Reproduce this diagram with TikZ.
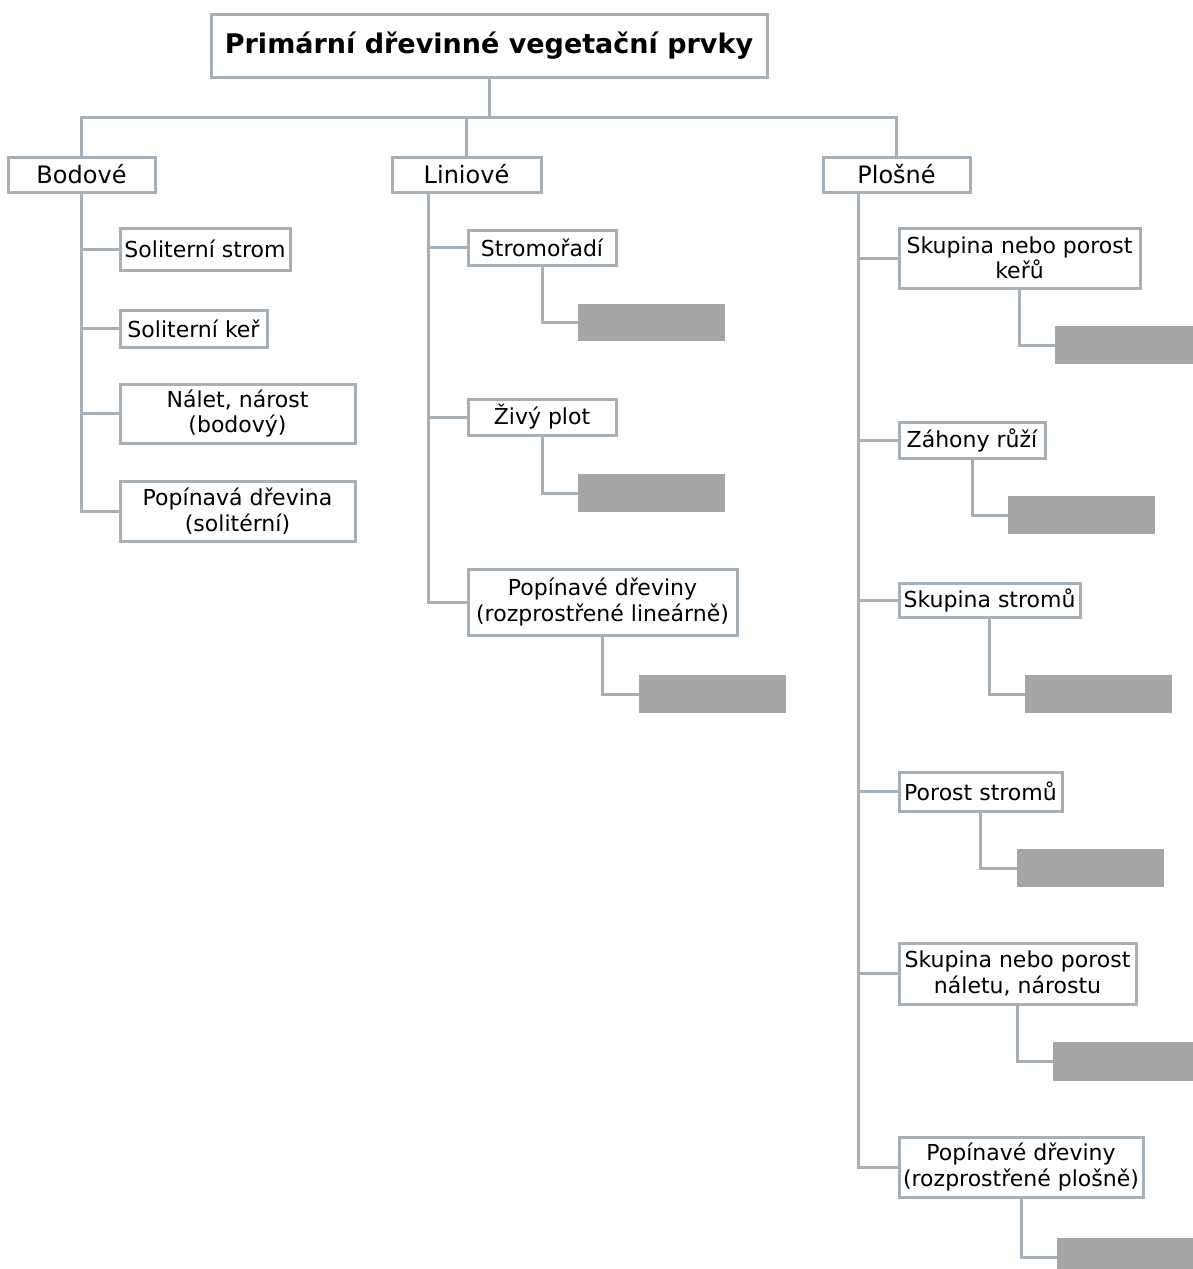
\documentclass[tikz,border=0pt]{standalone}
\usepackage{fontspec}
\setmainfont{DejaVu Sans}
\usetikzlibrary{calc}
\definecolor{linec}{HTML}{A8B0B7}
\definecolor{grayf}{HTML}{A6A6A6}
\begin{document}
\begin{tikzpicture}[x=1pt,y=-1pt,
  conn/.style={draw=linec,line width=3pt},
  tbox/.style={draw=linec,line width=3pt,fill=white,inner sep=0pt,align=center,
    font=\fontsize{22}{25.5}\selectfont,text=black},
  cbox/.style={tbox,font=\fontsize{24}{28}\selectfont},
  gbox/.style={fill=grayf,draw=none,inner sep=0pt},
]
\useasboundingbox (0,0) rectangle (1193,1269);
\clip (0,0) rectangle (1193,1269);
\fill[white] (0,0) rectangle (1193,1269);

% nodes
\node[tbox,minimum width=556pt,minimum height=63pt,font=\fontsize{27}{32}\selectfont\bfseries] (title) at (489,45.5) {Primární dřevinné vegetační prvky};
\node[cbox,minimum width=147pt,minimum height=35pt] (bod) at (81.5,174.5) {Bodové};
\node[cbox,minimum width=149pt,minimum height=35pt] (lin) at (466.5,174.5) {Liniové};
\node[cbox,minimum width=147pt,minimum height=35pt] (plo) at (896.5,174.5) {Plošné};

% Bodove children
\node[tbox,minimum width=170pt,minimum height=42pt] (b1) at (205,249) {Soliterní strom};
\node[tbox,minimum width=147pt,minimum height=37pt] (b2) at (193.5,328.5) {Soliterní keř};
\node[tbox,minimum width=235pt,minimum height=59pt] (b3) at (237.5,413.5) {Nálet, nárost\\(bodový)};
\node[tbox,minimum width=235pt,minimum height=60pt] (b4) at (237.5,511) {Popínavá dřevina\\(solitérní)};

% Liniove children
\node[tbox,minimum width=148pt,minimum height=35pt] (l1) at (542,247.5) {Stromořadí};
\node[gbox,minimum width=147pt,minimum height=37pt] (g1) at (651.5,322.5) {};
\node[tbox,minimum width=148pt,minimum height=36pt] (l2) at (542,417) {Živý plot};
\node[gbox,minimum width=147pt,minimum height=38pt] (g2) at (651.5,493) {};
\node[tbox,minimum width=269pt,minimum height=66pt] (l3) at (602.5,602) {Popínavé dřeviny\\(rozprostřené lineárně)};
\node[gbox,minimum width=147pt,minimum height=38pt] (g3) at (712.5,694) {};

% Plosne children
\node[tbox,minimum width=241pt,minimum height=60pt] (p1) at (1019.5,258) {Skupina nebo porost\\keřů};
\node[gbox,minimum width=147pt,minimum height=38pt] (g4) at (1128.5,345) {};
\node[tbox,minimum width=146pt,minimum height=36pt] (p2) at (972,440) {Záhony růží};
\node[gbox,minimum width=147pt,minimum height=38pt] (g5) at (1081.5,515) {};
\node[tbox,minimum width=181pt,minimum height=34pt] (p3) at (989.5,600) {Skupina stromů};
\node[gbox,minimum width=147pt,minimum height=38pt] (g6) at (1098.5,694) {};
\node[tbox,minimum width=163pt,minimum height=39pt] (p4) at (980.5,791.5) {Porost stromů};
\node[gbox,minimum width=147pt,minimum height=38pt] (g7) at (1090.5,868) {};
\node[tbox,minimum width=237pt,minimum height=61pt] (p5) at (1017.5,973.5) {Skupina nebo porost\\náletu, nárostu};
\node[gbox,minimum width=147pt,minimum height=39pt] (g8) at (1126.5,1061.5) {};
\node[tbox,minimum width=244pt,minimum height=60pt] (p6) at (1021,1167) {Popínavé dřeviny\\(rozprostřené plošně)};
\node[gbox,minimum width=147pt,minimum height=38pt] (g9) at (1130.5,1257) {};

% helper coordinates
\coordinate (busy) at (489,117);
\coordinate (lt) at ([xshift=38pt]lin.south west);
\coordinate (pt) at ([xshift=37pt]plo.south west);

% connectors
\draw[conn] (title.south) -- (busy);
\draw[conn] (bod.north) |- (busy) -| (plo.north);
\draw[conn] (lin.north) -- (lin.north |- busy);

\foreach \c in {b1,b2,b3,b4}{\draw[conn] (bod.south) |- (\c.west);}
\foreach \c in {l1,l2,l3}{\draw[conn] (lt) |- (\c.west);}
\foreach \c in {p1,p2,p3,p4,p5,p6}{\draw[conn] (pt) |- (\c.west);}

\draw[conn] (l1.south) |- (g1.west);
\draw[conn] (l2.south) |- (g2.west);
\draw[conn] (l3.south) |- (g3.west);
\draw[conn] (p1.south) |- (g4.west);
\draw[conn] (p2.south) |- (g5.west);
\draw[conn] (p3.south) |- (g6.west);
\draw[conn] (p4.south) |- (g7.west);
\draw[conn] (p5.south) |- (g8.west);
\draw[conn] (p6.south) |- (g9.west);
\end{tikzpicture}
\end{document}
